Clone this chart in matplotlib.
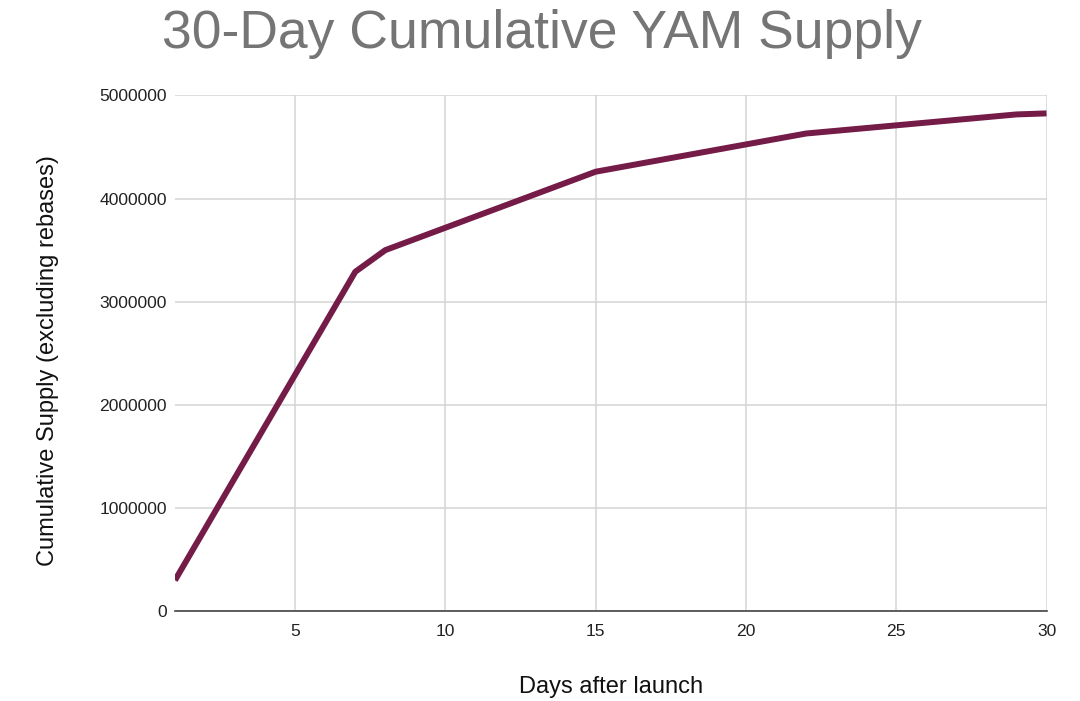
import numpy as np
import matplotlib.pyplot as plt
from matplotlib.ticker import FuncFormatter

# datos (dias y oferta acumulada)
dias = [1, 7, 8, 15, 22, 29, 30]
oferta = [300000, 3290000, 3500000, 4260000, 4630000, 4815000, 4825000]

ticks_x = [5, 10, 15, 20, 25, 30]
ticks_y = [0, 1000000, 2000000, 3000000, 4000000, 5000000]

plt.rcParams['font.family'] = ['Liberation Sans', 'DejaVu Sans']

fig = plt.figure(figsize=(10.8, 7.01), dpi=100)
ax = fig.add_axes([0.162, 0.128, 0.807, 0.736])

ax.plot(dias, oferta, color='#741b47', linewidth=4.3, solid_capstyle='butt', zorder=3)

ax.set_xlim(1, 30)
ax.set_ylim(0, 5000000)
ax.set_xticks(ticks_x)
ax.set_yticks(ticks_y)
ax.yaxis.set_major_formatter(FuncFormatter(lambda v, p: f'{int(v)}'))

ax.grid(True, color='#d4d4d4', linewidth=1.1, zorder=0)
for lado in ['top', 'right', 'left']:
    ax.spines[lado].set_visible(False)
ax.spines['bottom'].set_color('#444444')
ax.spines['bottom'].set_linewidth(1.2)
ax.tick_params(axis='both', length=0, labelsize=12.6, labelcolor='#222222', pad=6)
ax.tick_params(axis='x', pad=9)

ax.set_xlabel('Days after launch', fontsize=17, color='#111111', labelpad=27)
ax.set_ylabel('Cumulative Supply (excluding rebases)', fontsize=17, color='#111111')
ax.yaxis.set_label_coords(-0.133, 0.485)
fig.text(0.502, 0.952, '30-Day Cumulative YAM Supply', ha='center', va='center',
         fontsize=38.5, color='#757575')

fig.savefig('out.png', dpi=100)
